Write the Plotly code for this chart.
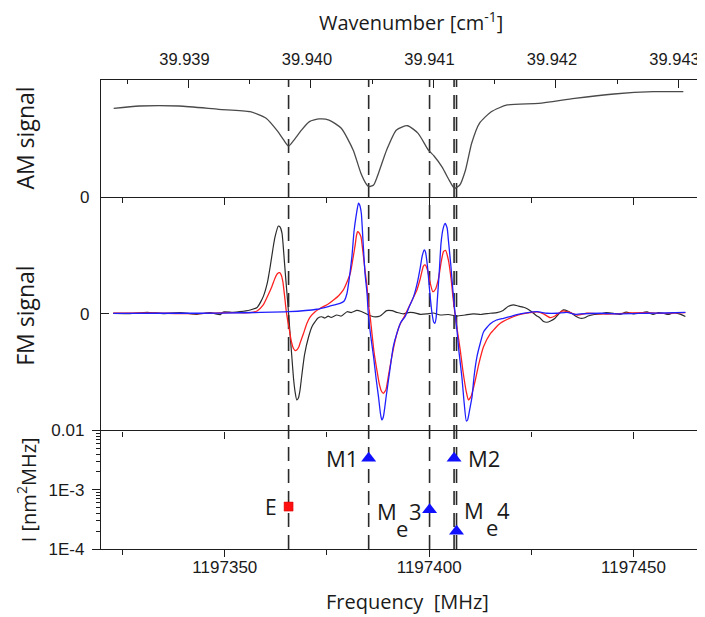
import math
import plotly.graph_objects as go

MHZ_PER_CM = 29979.2458  # 1 cm^-1 expressed in MHz
X_RANGE = [1197319.7, 1197467.5]

# ---------------- AM signal (top panel) ----------------
am_freq = [1197322.8, 1197329.1, 1197338.8, 1197348.5, 1197356.2, 1197360.1, 1197363.0,
           1197364.4, 1197365.6, 1197366.8, 1197368.8, 1197370.7, 1197373.1, 1197375.5,
           1197378.5, 1197381.4, 1197383.3, 1197384.5, 1197385.2, 1197386.4, 1197387.6,
           1197389.6, 1197392.0, 1197394.7, 1197397.3, 1197399.8, 1197401.2, 1197403.1,
           1197405.1, 1197406.2, 1197407.5, 1197408.9, 1197410.4, 1197412.3, 1197415.2,
           1197419.1, 1197426.8, 1197435.6, 1197445.2, 1197454.9, 1197462.2]
am_signal = [0.757, 0.777, 0.777, 0.749, 0.728, 0.672, 0.557,
             0.486, 0.434, 0.480, 0.572, 0.643, 0.666, 0.657,
             0.586, 0.400, 0.201, 0.115, 0.086, 0.100, 0.201,
             0.400, 0.572, 0.608, 0.543, 0.400, 0.349, 0.257,
             0.129, 0.072, 0.100, 0.229, 0.458, 0.629, 0.728,
             0.786, 0.800, 0.843, 0.880, 0.900, 0.900]

# ---------------- FM signal (middle panel) ----------------
fm_black_freq = [1197322.7, 1197326.8, 1197331.0, 1197334.9, 1197339.1, 1197343.2, 1197346.4,
                 1197348.9, 1197349.6, 1197352.0, 1197353.7, 1197356.2, 1197357.9, 1197359.4,
                 1197360.4, 1197361.1, 1197361.8, 1197362.3, 1197363.1, 1197363.5, 1197364.0,
                 1197364.4, 1197364.8, 1197365.2, 1197365.6, 1197366.0, 1197366.4, 1197366.8,
                 1197367.2, 1197367.6, 1197368.0, 1197368.4, 1197368.8, 1197369.5, 1197370.5,
                 1197371.4, 1197372.1, 1197372.8, 1197373.7, 1197374.5, 1197375.3, 1197376.0,
                 1197377.4, 1197378.5, 1197379.9, 1197380.9, 1197382.3, 1197383.4, 1197384.8,
                 1197386.4, 1197388.0, 1197389.6, 1197390.9, 1197392.2, 1197393.7, 1197394.9,
                 1197396.2, 1197397.8, 1197399.4, 1197401.0, 1197402.7, 1197404.7, 1197406.8,
                 1197408.8, 1197410.8, 1197412.7, 1197414.9, 1197416.6, 1197418.1, 1197419.3,
                 1197420.6, 1197421.8, 1197423.1, 1197424.1, 1197425.1, 1197426.2, 1197427.2,
                 1197428.0, 1197428.8, 1197429.7, 1197430.8, 1197431.8, 1197432.9, 1197433.9,
                 1197434.9, 1197436.0, 1197437.0, 1197437.9, 1197438.9, 1197440.4, 1197441.9,
                 1197443.3, 1197445.1, 1197446.7, 1197448.2, 1197450.0, 1197451.6, 1197453.3,
                 1197454.8, 1197456.1, 1197457.3, 1197458.5, 1197459.8, 1197461.2, 1197462.7]
fm_black = [0.001, 0.000, 0.011, 0.000, 0.008, -0.006, 0.008,
            -0.009, 0.014, 0.011, 0.016, 0.031, 0.052, 0.145,
            0.262, 0.401, 0.561, 0.658, 0.749, 0.741, 0.687,
            0.527, 0.345, 0.176, 0.003, -0.192, -0.369, -0.551,
            -0.671, -0.739, -0.722, -0.654, -0.540, -0.354, -0.198,
            -0.106, -0.069, -0.038, -0.027, -0.038, -0.021, -0.033,
            -0.012, -0.021, 0.016, 0.009, 0.027, 0.018, -0.006,
            -0.027, -0.021, 0.025, 0.025, 0.009, -0.003, 0.009,
            0.008, -0.006, -0.003, 0.005, -0.012, -0.008, -0.021,
            -0.012, -0.003, -0.008, 0.003, 0.008, 0.027, 0.061,
            0.074, 0.065, 0.054, 0.039, 0.016, -0.016, -0.040,
            -0.068, -0.074, -0.063, -0.040, 0.001, 0.031, 0.022,
            0.003, -0.025, -0.040, -0.038, -0.021, -0.008, -0.003,
            0.009, 0.003, -0.008, 0.012, -0.003, 0.005, 0.014,
            -0.008, 0.009, 0.003, -0.008, 0.008, -0.003, -0.025]

fm_red_freq = [1197322.7, 1197331.7, 1197341.5, 1197351.3, 1197356.2, 1197357.9, 1197359.4,
               1197360.6, 1197361.5, 1197362.3, 1197362.9, 1197363.4, 1197363.8, 1197364.2,
               1197364.6, 1197365.0, 1197365.4, 1197365.8, 1197366.3, 1197366.8, 1197367.2,
               1197367.6, 1197368.1, 1197368.4, 1197369.2, 1197370.1, 1197370.9, 1197372.1,
               1197373.1, 1197374.1, 1197375.3, 1197376.6, 1197377.9, 1197379.0, 1197379.9,
               1197380.7, 1197381.3, 1197381.9, 1197382.2, 1197382.5, 1197382.7, 1197383.3,
               1197383.8, 1197384.3, 1197384.8, 1197385.1, 1197385.6, 1197386.0, 1197386.5,
               1197387.2, 1197387.8, 1197388.3, 1197388.8, 1197389.4, 1197390.0, 1197390.8,
               1197391.7, 1197392.7, 1197394.1, 1197395.4, 1197396.2, 1197397.0, 1197397.8,
               1197398.6, 1197399.0, 1197399.6, 1197400.2, 1197400.9, 1197401.5, 1197402.3,
               1197402.9, 1197403.5, 1197404.0, 1197404.7, 1197405.4, 1197405.9, 1197406.7,
               1197407.6, 1197408.3, 1197409.1, 1197409.6, 1197410.3, 1197411.3, 1197412.2,
               1197413.3, 1197414.9, 1197417.4, 1197420.6, 1197422.8, 1197424.7, 1197426.4,
               1197428.0, 1197429.6, 1197430.8, 1197432.5, 1197434.0, 1197436.2, 1197438.6,
               1197441.9, 1197445.1, 1197449.2, 1197453.3, 1197457.8, 1197462.7]
fm_red = [0.003, 0.005, 0.000, 0.008, 0.008, 0.022, 0.074,
          0.159, 0.230, 0.305, 0.343, 0.350, 0.330, 0.273,
          0.159, 0.031, -0.063, -0.140, -0.243, -0.299, -0.316,
          -0.311, -0.286, -0.254, -0.175, -0.083, -0.029, 0.016,
          0.039, 0.059, 0.082, 0.116, 0.155, 0.202, 0.270,
          0.345, 0.459, 0.587, 0.664, 0.701, 0.698, 0.658,
          0.527, 0.373, 0.228, 0.088, -0.038, -0.169, -0.328,
          -0.482, -0.602, -0.662, -0.682, -0.654, -0.540, -0.380,
          -0.226, -0.106, -0.012, 0.082, 0.142, 0.202, 0.296,
          0.407, 0.416, 0.373, 0.270, 0.187, 0.206, 0.302,
          0.433, 0.530, 0.540, 0.459, 0.287, 0.116, -0.098,
          -0.311, -0.500, -0.671, -0.739, -0.705, -0.568, -0.423,
          -0.283, -0.175, -0.083, -0.027, -0.003, 0.008, 0.014,
          -0.003, -0.035, -0.021, 0.022, 0.014, -0.012, 0.003,
          -0.003, -0.003, 0.005, 0.008, 0.001, 0.008]

fm_blue_freq = [1197322.7, 1197334.2, 1197343.9, 1197353.7, 1197365.6, 1197372.5, 1197375.8,
                1197378.2, 1197379.2, 1197379.9, 1197380.4, 1197381.1, 1197381.6, 1197382.1,
                1197382.7, 1197383.0, 1197383.4, 1197383.8, 1197384.3, 1197384.8, 1197385.1,
                1197385.7, 1197386.4, 1197387.0, 1197387.6, 1197388.1, 1197388.4, 1197388.8,
                1197389.5, 1197390.5, 1197391.2, 1197392.1, 1197393.1, 1197394.1, 1197395.1,
                1197396.2, 1197397.1, 1197397.8, 1197398.3, 1197398.8, 1197399.1, 1197399.6,
                1197400.1, 1197400.7, 1197401.1, 1197401.4, 1197401.7, 1197402.0, 1197402.5,
                1197402.9, 1197403.4, 1197403.9, 1197404.4, 1197404.7, 1197405.3, 1197405.8,
                1197406.3, 1197406.8, 1197407.3, 1197408.0, 1197408.5, 1197409.1, 1197409.4,
                1197409.9, 1197410.5, 1197411.0, 1197411.7, 1197412.5, 1197413.3, 1197414.9,
                1197416.5, 1197418.2, 1197420.3, 1197422.3, 1197424.2, 1197426.4, 1197428.8,
                1197431.3, 1197433.7, 1197435.7, 1197437.0, 1197441.9, 1197446.7, 1197453.3,
                1197457.8, 1197462.7]
fm_blue = [0.001, 0.003, 0.003, 0.007, 0.016, 0.037, 0.065,
           0.088, 0.108, 0.174, 0.287, 0.487, 0.698, 0.829,
           0.944, 0.929, 0.858, 0.630, 0.345, 0.172, 0.003,
           -0.192, -0.369, -0.551, -0.711, -0.859, -0.910, -0.882,
           -0.705, -0.454, -0.286, -0.169, -0.072, -0.027, 0.056,
           0.145, 0.262, 0.388, 0.493, 0.544, 0.527, 0.401,
           0.202, 0.003, -0.072, -0.083, -0.038, 0.116, 0.373,
           0.601, 0.724, 0.772, 0.732, 0.630, 0.416, 0.202,
           0.014, -0.140, -0.328, -0.540, -0.739, -0.919, -0.910,
           -0.825, -0.711, -0.534, -0.369, -0.254, -0.157, -0.089,
           -0.055, -0.040, -0.021, -0.003, 0.009, 0.016, 0.003,
           0.003, 0.011, -0.008, -0.003, 0.003, -0.002, 0.003,
           0.005, 0.011]

# ---------------- Line intensities (bottom panel) ----------------
e_freq = [1197365.6]
e_intensity = [5.2e-4]
m_names = ["M1", "Me3", "M2", "Me4"]
m_freq = [1197385.2, 1197400.1, 1197406.1, 1197406.7]
m_intensity = [3.4e-3, 4.6e-4, 3.4e-3, 2.0e-4]
transition_freqs = e_freq + m_freq

# ---------------- figure ----------------
TICK_FONT = dict(family="Liberation Sans, Arial, sans-serif", size=17, color="#1a1a1a")
TOP_TICK_FONT = dict(TICK_FONT, size=16.5)
LABEL_FONT = "Open Sans, Liberation Sans, sans-serif"
AXC = "#1e1e1e"
D_AM = [0.7512, 1.0]
D_FM = [0.2527, 0.7512]
D_I = [0.0, 0.2527]

fig = go.Figure()
fig.add_trace(go.Scatter(x=am_freq, y=am_signal, mode="lines", xaxis="x", yaxis="y",
                         line=dict(color="#4a4a4a", width=1.3, shape="spline", smoothing=0.6),
                         showlegend=False, hoverinfo="skip"))
fig.add_trace(go.Scatter(x=fm_black_freq, y=fm_black, mode="lines", xaxis="x2", yaxis="y2",
                         line=dict(color="#2c2c2c", width=1.2, shape="spline", smoothing=0.5),
                         showlegend=False, hoverinfo="skip"))
fig.add_trace(go.Scatter(x=fm_red_freq, y=fm_red, mode="lines", xaxis="x2", yaxis="y2",
                         line=dict(color="#ff2020", width=1.3, shape="spline", smoothing=0.5),
                         showlegend=False, hoverinfo="skip"))
fig.add_trace(go.Scatter(x=fm_blue_freq, y=fm_blue, mode="lines", xaxis="x2", yaxis="y2",
                         line=dict(color="#2020ff", width=1.3, shape="spline", smoothing=0.5),
                         showlegend=False, hoverinfo="skip"))
fig.add_trace(go.Scatter(x=e_freq, y=e_intensity, mode="markers", xaxis="x3", yaxis="y3",
                         marker=dict(symbol="square", size=9, color="#ff1010",
                                     line=dict(color="#d00000", width=0.5)),
                         showlegend=False, hoverinfo="skip"))
fig.add_trace(go.Scatter(x=m_freq, y=m_intensity, mode="markers", xaxis="x3", yaxis="y3",
                         marker=dict(symbol="triangle-up", size=13, color="#1010ff",
                                     line=dict(width=0)),
                         showlegend=False, hoverinfo="skip"))
# invisible trace so the top wavenumber axis is drawn
fig.add_trace(go.Scatter(x=[X_RANGE[0] / MHZ_PER_CM, X_RANGE[1] / MHZ_PER_CM], y=[0.5, 0.5],
                         mode="lines", line=dict(width=0, color="rgba(0,0,0,0)"),
                         xaxis="x4", yaxis="y", showlegend=False, hoverinfo="skip"))

freq_axis = dict(range=X_RANGE, showline=True, linecolor=AXC, linewidth=1.4,
                 ticks="outside", ticklen=7, tickwidth=1.3, tickcolor=AXC,
                 tickmode="linear", tick0=1197350, dtick=50, tickformat="d",
                 minor=dict(ticks="outside", ticklen=5, tickwidth=1.3, tickcolor=AXC,
                            tick0=1197325, dtick=25),
                 showgrid=False, zeroline=False, tickfont=TICK_FONT)

minor_log = [k * 10 ** e for e in (-4, -3) for k in range(2, 10)]

fig.update_layout(
    width=697, height=609,
    margin=dict(l=93, r=0, t=72, b=68),
    paper_bgcolor="white", plot_bgcolor="white",
    font=dict(family="Liberation Sans, Arial, sans-serif", color="#1a1a1a"),
    xaxis=dict(freq_axis, anchor="y", mirror=True, showticklabels=False),
    xaxis2=dict(freq_axis, anchor="y2", showticklabels=False),
    xaxis3=dict(freq_axis, anchor="y3", showticklabels=True, ticklabelstandoff=-5),
    xaxis4=dict(overlaying="x", anchor="y", side="top",
                range=[X_RANGE[0] / MHZ_PER_CM, X_RANGE[1] / MHZ_PER_CM],
                tickmode="linear", tick0=39.939, dtick=0.001, tickformat=".3f",
                ticks="inside", ticklen=8, tickwidth=1.3, tickcolor=AXC,
                minor=dict(ticks="inside", ticklen=4, tickwidth=1.3, tickcolor=AXC,
                           tick0=39.9385, dtick=0.0005),
                showline=False, showgrid=False, zeroline=False, tickfont=TOP_TICK_FONT,
                ticklabelstandoff=11, ticklabelshift=-4),
    yaxis=dict(domain=D_AM, anchor="x", range=[0, 1], showline=True, linecolor=AXC,
               linewidth=1.4, tickmode="array", tickvals=[0], ticktext=["0"], ticks="",
               showgrid=False, zeroline=False, tickfont=TICK_FONT, ticklabelstandoff=7),
    yaxis2=dict(domain=D_FM, anchor="x2", range=[-1, 1], showline=True, linecolor=AXC,
                linewidth=1.4, tickmode="array", tickvals=[0], ticktext=["0"],
                ticks="inside", ticklen=8, tickwidth=1.3, tickcolor=AXC,
                showgrid=False, zeroline=False, tickfont=TICK_FONT, ticklabelstandoff=7),
    yaxis3=dict(domain=D_I, anchor="x3", type="log", range=[-4, -2], showline=True,
                linecolor=AXC, linewidth=1.4, tickmode="array",
                tickvals=[1e-4, 1e-3, 1e-2], ticktext=["1E-4", "1E-3", "0.01"],
                ticks="outside", ticklen=8, tickwidth=1.3, tickcolor=AXC,
                minor=dict(ticks="outside", ticklen=4, tickwidth=1.1, tickcolor=AXC,
                           tickmode="array", tickvals=minor_log),
                showgrid=False, zeroline=False, tickfont=TICK_FONT, ticklabelstandoff=4),
)

for f in transition_freqs:
    fig.add_shape(type="line", xref="x3", yref="paper", x0=f, x1=f, y0=0, y1=1,
                  layer="below", line=dict(color="#2a2a2a", width=1.6, dash="14px,8px"))

ann = []
def label(text, x, y, **kw):
    d = dict(text=text, x=x, y=y, showarrow=False,
             font=dict(family=LABEL_FONT, size=kw.pop("size", 21), color="#1a1a1a"))
    d.update(kw)
    ann.append(d)

# axis titles
label("Wavenumber [cm<sup>-1</sup>]", 0.513, 1.124, xref="paper", yref="paper",
      size=20, xanchor="center", yanchor="middle")
label("Frequency&nbsp; [MHz]", 0.508, -0.113, xref="paper", yref="paper",
      size=20, xanchor="center", yanchor="middle")
label("AM signal", -0.126, 0.877, xref="paper", yref="paper", size=23,
      textangle=-90, xanchor="center", yanchor="middle")
label("FM signal", -0.126, 0.497, xref="paper", yref="paper", size=23,
      textangle=-90, xanchor="center", yanchor="middle")
label("I [nm<sup>2</sup>MHz]", -0.122, 0.126, xref="paper", yref="paper", size=20,
      textangle=-90, xanchor="center", yanchor="middle")

# transition labels
lg = math.log10
label("E", e_freq[0], lg(e_intensity[0]), xref="x3", yref="y3", xanchor="right", xshift=-10)
label("M1", m_freq[0], lg(m_intensity[0]), xref="x3", yref="y3", xanchor="right", xshift=-9,
      size=22)
label("M2", m_freq[2], lg(m_intensity[2]), xref="x3", yref="y3", xanchor="left", xshift=12,
      size=22)
for txt, dx, dy in (("M", -43, -1), ("e", -27.5, -18), ("3", -14, -1)):
    label(txt, m_freq[1], lg(m_intensity[1]), xref="x3", yref="y3", xshift=dx, yshift=dy,
          size=22)
for txt, dx, dy in (("M", 17, 21), ("e", 35, 4), ("4", 47, 21)):
    label(txt, m_freq[3], lg(m_intensity[3]), xref="x3", yref="y3", xshift=dx, yshift=dy,
          size=22)

fig.update_layout(annotations=ann)
fig.write_html("out.html")
